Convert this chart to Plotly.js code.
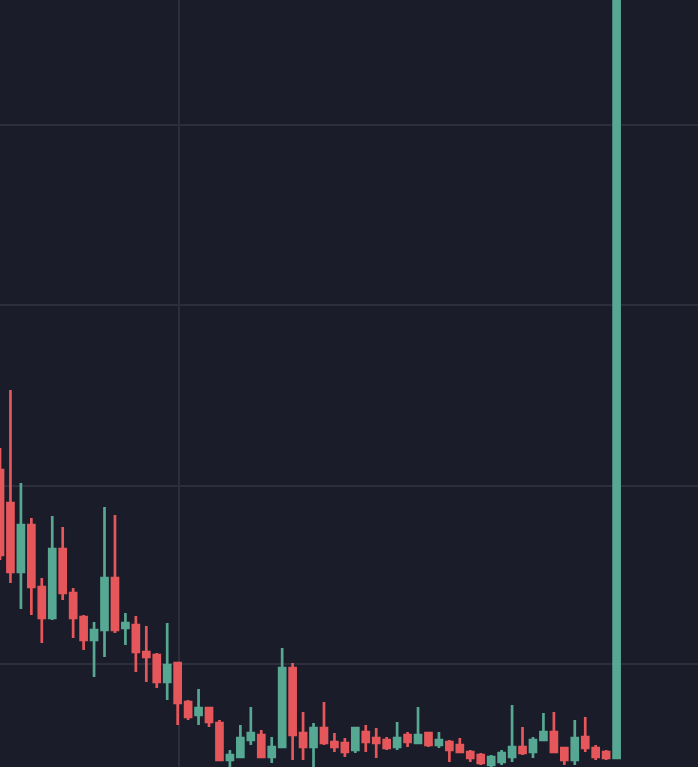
<!DOCTYPE html>
<html>
<head>
<meta charset="utf-8">
<script src="https://cdn.plot.ly/plotly-3.0.1.min.js"></script>
<style>
  html, body { margin: 0; padding: 0; background: #1b1c29; }
  #chart { width: 698px; height: 767px; }
</style>
</head>
<body>
<div id="chart"></div>
<script>
// Candle index (time order)
const idx = [0,1,2,3,4,5,6,7,8,9,10,11,12,13,14,15,16,17,18,19,20,21,22,23,24,25,26,27,28,29,
             30,31,32,33,34,35,36,37,38,39,40,41,42,43,44,45,46,47,48,49,50,51,52,53,54,55,56,57,58,59];
const openV  = [297,264,195,242,180,149,218,174,150,127,137,189,139,142,115,112,85,104,65,52,
                59,44,7,10,27,32,10,20,99,34,20,39,25,24,17,35,29,27,20,32,
                24,34,22,25,22,15,12,2,5,10,20,15,27,35,19,7,30,19,15,9];
const highV  = [319,377,284,249,189,251,240,179,152,145,260,252,154,151,141,114,144,104,67,78,
                59,47,17,42,60,37,30,119,104,55,44,65,34,29,40,42,39,30,45,35,
                60,35,35,27,29,17,14,12,17,62,40,30,54,55,20,47,50,22,17,900];
const lowV   = [207,184,158,152,124,147,167,129,117,90,110,134,122,95,85,79,67,42,47,42,
                40,6,0,9,22,9,4,20,7,7,0,22,15,10,14,15,9,17,17,20,
                24,20,19,5,14,5,2,0,2,5,12,9,27,14,2,2,15,7,7,9];
const closeV = [212,195,242,180,149,218,174,149,127,137,189,137,144,115,110,85,102,64,50,59,
                45,7,12,29,34,10,20,99,32,20,39,24,20,15,39,25,24,19,29,25,
                32,22,27,17,15,9,4,10,14,20,14,27,35,15,7,29,19,10,9,900];
// Horizontal / vertical grid positions
const yGrid = [103, 281, 462, 642];
const xGrid = [17.13];

const upColor = '#56a893';
const downColor = '#e5575b';

const trace = {
  type: 'candlestick',
  x: idx, open: openV, high: highV, low: lowV, close: closeV,
  increasing: { line: { color: upColor, width: 2.7 }, fillcolor: upColor },
  decreasing: { line: { color: downColor, width: 2.7 }, fillcolor: downColor },
  whiskerwidth: 0,
  hoverinfo: 'skip'
};

const layout = {
  width: 698, height: 767,
  margin: { l: 0, r: 0, t: 0, b: 0, pad: 0 },
  paper_bgcolor: '#1b1c29',
  plot_bgcolor: '#1b1c29',
  showlegend: false,
  boxgap: 0.18,
  xaxis: {
    range: [0, 66.79],
    tickvals: xGrid,
    showticklabels: false,
    showgrid: true, gridcolor: '#2d2e3c', gridwidth: 2,
    zeroline: false, showline: false, ticks: '',
    rangeslider: { visible: false }
  },
  yaxis: {
    range: [0, 767],
    tickvals: yGrid,
    showticklabels: false,
    showgrid: true, gridcolor: '#2d2e3c', gridwidth: 2,
    zeroline: false, showline: false, ticks: ''
  }
};

Plotly.newPlot('chart', [trace], layout, { displayModeBar: false, staticPlot: true });
</script>
</body>
</html>
